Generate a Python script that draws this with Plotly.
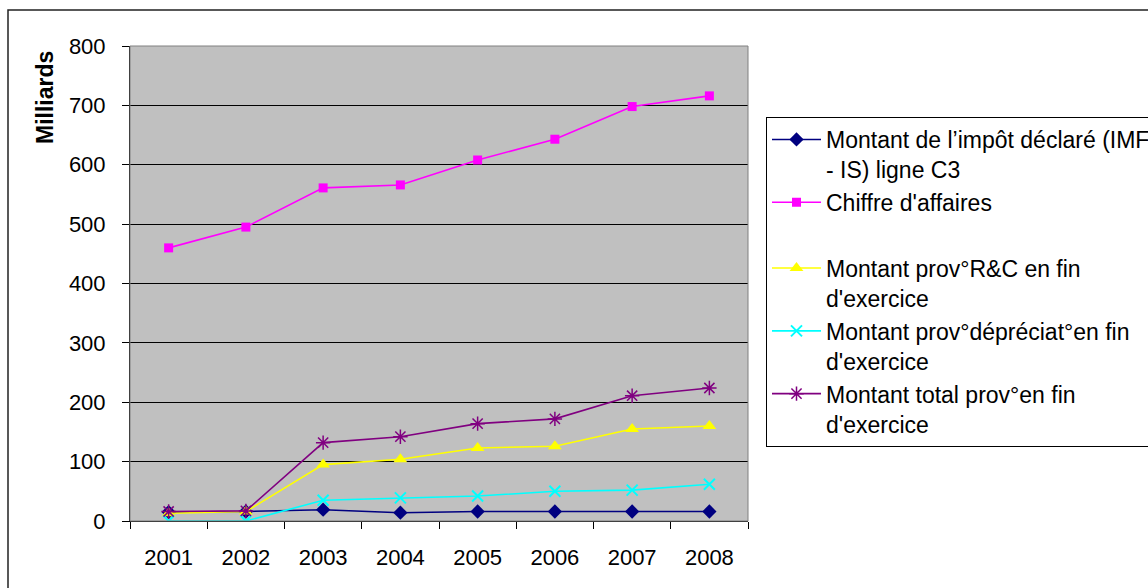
import plotly.graph_objects as go

years = ["2001", "2002", "2003", "2004", "2005", "2006", "2007", "2008"]
impot = [15, 16, 19, 14, 16, 16, 16, 16]
chiffre = [460, 495, 561, 566, 608, 643, 698, 716]
prov_rc = [13, 16, 95, 104, 123, 126, 155, 160]
prov_dep = [0, 0, 35, 39, 42, 50, 52, 62]
prov_total = [16, 17, 132, 142, 164, 172, 211, 224]

names = [
    "Montant de l’impôt déclaré (IMF<br>- IS) ligne C3",
    "Chiffre d'affaires",
    "Montant prov°R&C en fin<br>d'exercice",
    "Montant prov°dépréciat°en fin<br>d'exercice",
    "Montant total prov°en fin<br>d'exercice",
]
y_title = "Milliards"

FONT = "Liberation Sans, Arial, sans-serif"

fig = go.Figure()
fig.add_trace(go.Scatter(x=years, y=impot, name=names[0], mode="lines+markers",
                         line=dict(color="#000080", width=1.6),
                         marker=dict(symbol="diamond", size=11, color="#000080")))
fig.add_trace(go.Scatter(x=years, y=chiffre, name=names[1], mode="lines+markers",
                         line=dict(color="#FF00FF", width=1.6),
                         marker=dict(symbol="square", size=9, color="#FF00FF")))
# blank legend slot (empty series)
fig.add_trace(go.Scatter(x=[None], y=[None], name=" ", mode="lines",
                         line=dict(color="rgba(0,0,0,0)", width=1), hoverinfo="skip"))
fig.add_trace(go.Scatter(x=years, y=prov_rc, name=names[2], mode="lines+markers",
                         line=dict(color="#FFFF00", width=1.6),
                         marker=dict(symbol="triangle-up", size=12, color="#FFFF00")))
fig.add_trace(go.Scatter(x=years, y=prov_dep, name=names[3], mode="lines+markers",
                         line=dict(color="#00FFFF", width=1.6),
                         marker=dict(symbol="x-thin-open", size=11,
                                     line=dict(color="#00FFFF", width=2))))
fig.add_trace(go.Scatter(x=years, y=prov_total, name=names[4], mode="lines+markers",
                         line=dict(color="#800080", width=1.6),
                         marker=dict(symbol="asterisk-open", size=12,
                                     line=dict(color="#800080", width=1.5))))

W, H = 1148, 588
L, R, T, B = 130, 748, 46, 521
pw, ph = R - L, B - T

def px(xp):
    return (xp - L) / pw

def py(yp):
    return (B - yp) / ph

fig.update_layout(
    width=W, height=H,
    margin=dict(l=L, r=W - R, t=T, b=H - B, autoexpand=False),
    paper_bgcolor="white",
    plot_bgcolor="#C0C0C0",
    font=dict(family=FONT, size=22, color="black"),
    showlegend=True,
    legend=dict(
        x=px(766), y=py(117), xanchor="left", yanchor="top",
        bgcolor="white", bordercolor="black", borderwidth=1,
        font=dict(family=FONT, size=23, color="black"),
        valign="top", itemwidth=49, tracegroupgap=0,
    ),
    xaxis=dict(
        type="category", range=[-0.5, 7.5],
        showgrid=False, zeroline=False,
        showline=True, linecolor="black", linewidth=1,
        ticks="outside", ticklen=7, tickcolor="black", tickson="boundaries",
        ticklabelstandoff=17,
        tickfont=dict(family=FONT, size=22, color="black"),
    ),
    yaxis=dict(
        range=[0, 800], dtick=100, tick0=0,
        showgrid=True, gridcolor="black", gridwidth=1,
        zeroline=False,
        showline=True, linecolor="black", linewidth=1,
        ticks="outside", ticklen=7, tickcolor="black",
        ticklabelstandoff=12,
        tickfont=dict(family=FONT, size=22, color="black"),
    ),
    annotations=[
        dict(text="<b>" + y_title + "</b>", xref="paper", yref="paper",
             x=px(45), y=py(98), xanchor="center", yanchor="middle",
             textangle=-90, showarrow=False,
             font=dict(family=FONT, size=23, color="black")),
    ],
    shapes=[
        dict(type="rect", xref="paper", yref="paper", x0=0, x1=1, y0=0, y1=1,
             line=dict(color="#808080", width=1), fillcolor="rgba(0,0,0,0)", layer="above"),
        dict(type="rect", xref="paper", yref="paper",
             x0=px(8), x1=px(1200), y0=py(640), y1=py(10),
             line=dict(color="#222222", width=1.5), fillcolor="rgba(0,0,0,0)", layer="above"),
    ],
)

fig.write_html(
    "out.html",
    config={"displayModeBar": False},
    post_script="document.body.style.margin='0px';document.body.style.overflow='hidden';",
)
